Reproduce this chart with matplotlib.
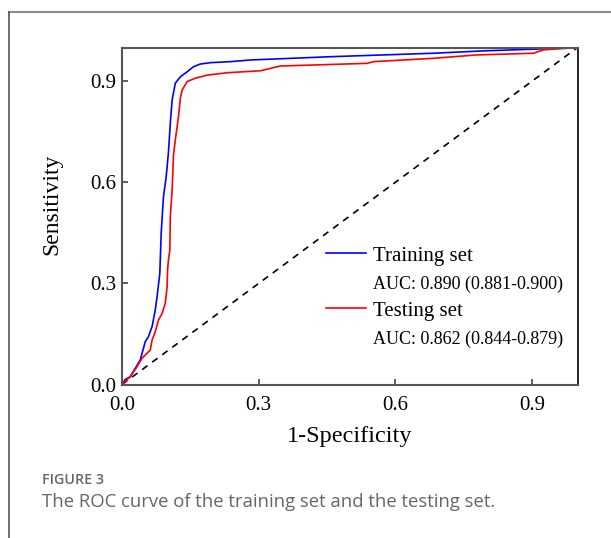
import numpy as np
import matplotlib
matplotlib.use('Agg')
import matplotlib.pyplot as plt
from matplotlib.lines import Line2D

# ROC points (1-specificity, sensitivity)
train_fpr = [0.0, 0.007, 0.018, 0.029, 0.040, 0.047, 0.051, 0.058, 0.066, 0.073, 0.077,
             0.083, 0.086, 0.091, 0.097, 0.102, 0.106, 0.110, 0.117, 0.128, 0.143, 0.157,
             0.172, 0.194, 0.238, 0.282, 0.464, 0.684, 0.794, 0.903, 1.0]
train_tpr = [0.0, 0.015, 0.023, 0.048, 0.073, 0.107, 0.127, 0.142, 0.172, 0.221, 0.261,
             0.330, 0.449, 0.557, 0.617, 0.690, 0.775, 0.844, 0.894, 0.913, 0.928, 0.943,
             0.951, 0.955, 0.958, 0.963, 0.973, 0.983, 0.990, 0.995, 1.0]

test_fpr = [0.0, 0.018, 0.033, 0.044, 0.055, 0.062, 0.066, 0.073, 0.080, 0.088, 0.095,
            0.099, 0.100, 0.102, 0.105, 0.106, 0.110, 0.113, 0.117, 0.124, 0.128, 0.132,
            0.143, 0.161, 0.187, 0.230, 0.304, 0.347, 0.538, 0.552, 0.684, 0.779, 0.903,
            0.925, 1.0]
test_tpr = [0.0, 0.023, 0.053, 0.078, 0.093, 0.102, 0.132, 0.157, 0.191, 0.211, 0.241,
            0.290, 0.340, 0.370, 0.399, 0.498, 0.577, 0.680, 0.726, 0.795, 0.849, 0.874,
            0.899, 0.909, 0.918, 0.925, 0.931, 0.945, 0.953, 0.958, 0.968, 0.978, 0.983,
            0.993, 1.0]

labels = ['Training set', 'AUC: 0.890 (0.881-0.900)', 'Testing set', 'AUC: 0.862 (0.844-0.879)']
ticks = [0.0, 0.3, 0.6, 0.9]

plt.rcParams['font.family'] = ['Liberation Serif', 'DejaVu Serif']

fig = plt.figure(figsize=(6.11, 5.38), dpi=100)
ax = fig.add_axes([0.1997, 0.2853, 0.7455, 0.6264])

ax.plot([0, 1], [0, 1], color='black', lw=1.2, dashes=(4, 3.5))
h1, = ax.plot(train_fpr, train_tpr, color='#0000ff', lw=1.2)
h2, = ax.plot(test_fpr, test_tpr, color='#ff0000', lw=1.2)

ax.set_xlim(0, 1)
ax.set_ylim(0, 1)
ax.set_xticks(ticks)
ax.set_yticks(ticks)
ax.set_xticklabels([f'{t:.1f}' for t in ticks])
ax.set_yticklabels([f'{t:.1f}' for t in ticks])
ax.tick_params(direction='in', length=4.5, width=1.2, color='#444444', labelsize=15,
               top=False, right=False, pad=4)
ax.tick_params(axis='x', pad=8)
for side in ['left', 'bottom', 'top']:
    ax.spines[side].set_color('#555555')
    ax.spines[side].set_linewidth(1.5)
ax.spines['right'].set_color('black')
ax.spines['right'].set_linewidth(1.2)

ax.set_xlabel('1-Specificity', fontsize=17.5, labelpad=8)
ax.set_ylabel('Sensitivity', fontsize=17)
ax.yaxis.set_label_coords(-0.13, 0.536)

blank = Line2D([], [], color='none')
leg = ax.legend([h1, blank, h2, blank], labels, loc='center left',
                bbox_to_anchor=(0.43, 0.26), frameon=False, fontsize=15,
                handlelength=1.9, handletextpad=0.35, labelspacing=0.4,
                borderaxespad=0)
for i, txt in enumerate(leg.get_texts()):
    if i % 2 == 1:
        txt.set_fontsize(13)

# page frame and caption
fig.add_artist(Line2D([0.0147, 1.0], [0.977, 0.977], color='#8c8c8c', lw=1.5))
fig.add_artist(Line2D([0.0147, 0.0147], [0.0, 0.977], color='#555555', lw=1.2))
fig.text(0.069, 1 - 483.5 / 538, 'FIGURE 3', fontsize=10.3, color='#666666',
         family='Open Sans', fontweight='semibold', va='baseline')
fig.text(0.069, 1 - 507 / 538, 'The ROC curve of the training set and the testing set.',
         fontsize=13.3, color='#666666', family='Open Sans', va='baseline')

fig.savefig('out.png', dpi=100)
